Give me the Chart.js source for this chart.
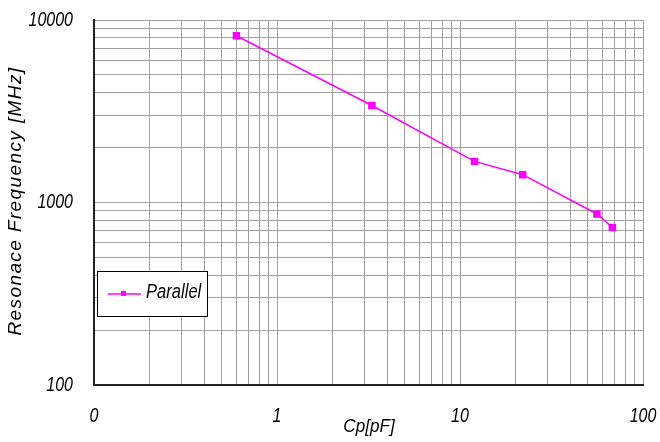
<!DOCTYPE html>
<html>
<head>
<meta charset="utf-8">
<script src="https://cdn.jsdelivr.net/npm/chart.js@4"></script>
<style>
  html, body { margin: 0; padding: 0; background: #fff; }
  #wrap { width: 660px; height: 442px; }
</style>
</head>
<body>
<div id="wrap"><canvas id="myChart" width="660" height="442"></canvas></div>
<script>
const capValues = [0.6, 3.3, 12, 22, 56, 68];          // Cp [pF]
const freqValues = [8200, 3400, 1680, 1420, 865, 730];  // MHz
const xTickLabels = ['0', '1', '10', '100'];
const yTickLabels = ['100', '1000', '10000'];

const FONT = '"Liberation Sans", Arial, sans-serif';
const GRID = '#a0a0a0';

// every 1..9 step of each decade between min and max
function logTicks(min, max) {
  const out = [];
  for (let e = Math.round(Math.log10(min)); e < Math.round(Math.log10(max)); e++) {
    for (let m = 1; m <= 9; m++) out.push({ value: Number((m * Math.pow(10, e)).toPrecision(3)) });
  }
  out.push({ value: max });
  return out;
}

function decadeLabel(labels, min) {
  return function (value) {
    const e = Math.log10(value) - Math.log10(min);
    if (Math.abs(e - Math.round(e)) > 1e-6) return '';
    return labels[Math.round(e)];
  };
}
const xLabel = decadeLabel(xTickLabels, 0.1);
const yLabel = decadeLabel(yTickLabels, 100);

// narrow italic text: regular face squeezed horizontally
function narrowText(ctx, text, x, y, size, squeeze, align) {
  ctx.save();
  ctx.translate(x, y);
  ctx.scale(squeeze, 1);
  ctx.font = 'italic ' + size + 'px ' + FONT;
  ctx.textAlign = align;
  ctx.textBaseline = 'middle';
  ctx.fillText(text, 0, 0);
  ctx.restore();
}

const extras = {
  id: 'extras',
  afterDraw(chart) {
    const ctx = chart.ctx;
    const xs = chart.scales.x, ys = chart.scales.y;
    ctx.save();
    ctx.fillStyle = '#000';

    // tick labels at the decades
    xs.ticks.forEach(t => {
      const s = xLabel(t.value);
      if (s) narrowText(ctx, s, xs.getPixelForValue(t.value), 416, 20, 0.8, 'center');
    });
    ys.ticks.forEach(t => {
      const s = yLabel(t.value);
      if (s) narrowText(ctx, s, 73, ys.getPixelForValue(t.value), 20, 0.8, 'right');
    });

    // y title
    ctx.save();
    ctx.translate(16, 201);
    ctx.rotate(-Math.PI / 2);
    ctx.font = 'italic 19px ' + FONT;
    ctx.letterSpacing = '1.4px';
    ctx.textAlign = 'center';
    ctx.textBaseline = 'middle';
    ctx.fillText('Resonace Frequency [MHz]', 0, 0);
    ctx.restore();

    // x title
    narrowText(ctx, 'Cp[pF]', 369, 427, 19, 0.9, 'center');

    // legend box
    const ds = chart.data.datasets[0];
    ctx.fillStyle = '#fff';
    ctx.fillRect(98, 272, 110, 45);
    ctx.strokeStyle = '#000';
    ctx.lineWidth = 1;
    ctx.strokeRect(97.5, 271.5, 110, 45);
    ctx.strokeStyle = ds.borderColor;
    ctx.lineWidth = 1.5;
    ctx.beginPath();
    ctx.moveTo(108, 294);
    ctx.lineTo(141, 294);
    ctx.stroke();
    ctx.fillStyle = ds.borderColor;
    ctx.fillRect(121, 291, 5, 5);
    ctx.fillStyle = '#000';
    narrowText(ctx, ds.label, 146, 293, 19.5, 0.85, 'left');
    ctx.restore();
  }
};

new Chart(document.getElementById('myChart'), {
  type: 'line',
  data: {
    datasets: [{
      label: 'Parallel',
      data: capValues.map((x, i) => ({ x: x, y: freqValues[i] })),
      borderColor: '#ff00ff',
      backgroundColor: '#ff00ff',
      borderWidth: 1.5,
      pointStyle: 'rect',
      pointRadius: 4.2,
      pointHoverRadius: 4.2,
      tension: 0
    }]
  },
  options: {
    responsive: false,
    animation: false,
    layout: { padding: { top: 20, right: 17, left: 0, bottom: 0 } },
    plugins: { legend: { display: false }, tooltip: { enabled: false } },
    scales: {
      x: {
        type: 'logarithmic',
        min: 0.1,
        max: 100,
        afterBuildTicks: s => { s.ticks = logTicks(0.1, 100); },
        afterFit: s => { s.height = 57; s.paddingLeft = 0; s.paddingRight = 0; },
        grid: { color: GRID, drawTicks: false },
        border: { color: '#222', width: 2 },
        ticks: { display: false, autoSkip: false }
      },
      y: {
        type: 'logarithmic',
        min: 100,
        max: 10000,
        afterBuildTicks: s => { s.ticks = logTicks(100, 10000); },
        afterFit: s => { s.width = 94; s.paddingTop = 0; s.paddingBottom = 0; },
        grid: { color: GRID, drawTicks: false },
        border: { color: '#222', width: 2 },
        ticks: { display: false, autoSkip: false }
      }
    }
  },
  plugins: [extras]
});
</script>
</body>
</html>
